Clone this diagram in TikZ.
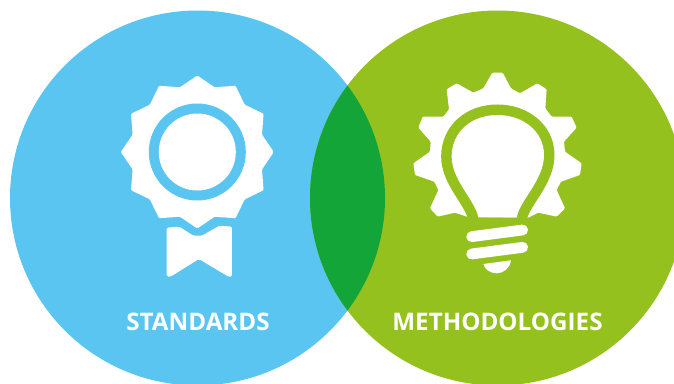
\documentclass[tikz,border=0pt]{standalone}
\usepackage{fontspec}
\setmainfont{Open Sans}
\usetikzlibrary{calc}
\definecolor{stdblue}{HTML}{5BC5F2}
\definecolor{methgreen}{HTML}{95C11F}
\definecolor{overlapgreen}{HTML}{13A538}
\tikzset{
  label text/.style={text=white,font=\bfseries\fontsize{24.2}{26}\selectfont,inner sep=0pt},
  icon/.style={shift={(#1)},x=0.3333pt,y=-0.3333pt},
  thread/.style={draw=white,line width=10.8pt,line cap=round}
}
\def\bulbpath{(235,472) .. controls (225,420) and (155,360) .. (155,290)
  .. controls (155,215) and (215,165) .. (292,165)
  .. controls (370,165) and (432,215) .. (432,285)
  .. controls (432,360) and (360,420) .. (350,472)}
\begin{document}
\begin{tikzpicture}[x=1pt,y=-1pt]
\useasboundingbox (0,0) rectangle (674,383);
\clip (0,0) rectangle (674,383);
\coordinate (A) at (197.5,198);
\coordinate (B) at (497.5,198);
\fill[stdblue] (A) circle (187.5pt);
\fill[methgreen] (B) circle (187.5pt);
\begin{scope}
\clip (A) circle (187.5pt);
\fill[overlapgreen] (B) circle (187.5pt);
\end{scope}
% rosette
\coordinate (R) at (197.3,152);
\fill[white,rounded corners=1pt] ($(R)+(90:76.5)$)
  \foreach \a in {90,120,...,420} { -- ($(R)+(\a+15:67)$) -- ($(R)+(\a+30:76.5)$) } -- cycle;
\fill[stdblue] (R) circle (48.5pt);
\fill[white] (R) circle (38.5pt);
% ribbon
\begin{scope}[icon={100,60}]
\fill[white,rounded corners=1.5pt] (200,503) -- (238,500) -- (280,527) -- (306,527) -- (358,497) -- (396,500)
  -- (396,650) -- (385,650) -- (297,597) -- (212,650) -- (200,650) -- cycle;
\end{scope}
% gear and bulb
\begin{scope}[icon={400,60}]
\fill[white,rounded corners=1pt] (277,38) -- (308,38) -- (333,85) -- (360,100) -- (412,70) -- (440,88)
  -- (436,145) -- (455,170) -- (515,170) -- (530,203) -- (492,245) -- (495,275) -- (545,310)
  -- (540,345) -- (483,365) -- (470,390) -- (495,445) -- (470,470) -- (415,458) -- (385,473)
  -- (200,470) -- (165,458) -- (113,470) -- (90,445) -- (115,390) -- (103,365) -- (45,345)
  -- (40,310) -- (90,275) -- (92,245) -- (55,203) -- (68,170) -- (130,170) -- (147,148)
  -- (140,88) -- (170,70) -- (220,98) -- (250,85) -- cycle;
\begin{scope}
\clip (0,0) rectangle (600,472);
\draw[methgreen,line width=21pt] \bulbpath;
\end{scope}
\fill[white] \bulbpath -- cycle;
\draw[thread] (215,530) -- (368,510);
\draw[thread] (215,582) -- (368,562);
\fill[white] (250,612) -- (333,601) .. controls (330,625) and (310,640) .. (290,640)
  .. controls (270,640) and (255,628) .. (250,612) -- cycle;
\end{scope}
% labels
\node[label text] (standards) at (198,322) {STANDARDS};
\node[label text] (methodologies) at (497.5,322) {METHODOLOGIES};
\end{tikzpicture}
\end{document}
